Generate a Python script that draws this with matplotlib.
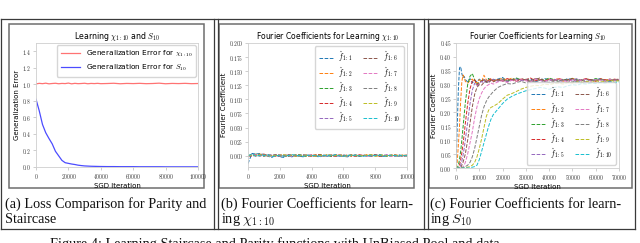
import matplotlib
matplotlib.use('Agg')
import matplotlib.pyplot as plt
from matplotlib.ticker import FuncFormatter, MultipleLocator
from matplotlib.patches import Rectangle

plt.rcParams['mathtext.fontset'] = 'cm'
plt.rcParams['font.family'] = ['DejaVu Sans']

# ---------------- data ----------------
# (a) generalization error
iters_a = [0, 2000, 4000, 6000, 8000, 10000, 12000, 14000, 16000, 18000, 20000,
           22000, 24000, 26000, 28000, 30000, 32000, 34000, 36000, 38000, 40000,
           44000, 48000, 52000, 56000, 60000, 64000, 68000, 72000, 76000, 80000,
           84000, 88000, 92000, 96000, 100000]
err_parity = [1.005, 1.012, 1.008, 1.014, 1.006, 1.010, 1.013, 1.007, 1.011, 1.009, 1.015,
              1.006, 1.012, 1.008, 1.010, 1.013, 1.007, 1.011, 1.009, 1.012, 1.008,
              1.010, 1.013, 1.007, 1.011, 1.009, 1.012, 1.008, 1.010, 1.014, 1.007,
              1.011, 1.009, 1.012, 1.008, 1.010]
err_stair = [0.82, 0.68, 0.515, 0.415, 0.345, 0.28, 0.19, 0.135, 0.08, 0.052, 0.044,
             0.036, 0.030, 0.022, 0.017, 0.013, 0.011, 0.009, 0.008, 0.007, 0.006,
             0.005, 0.005, 0.004, 0.004, 0.004, 0.003, 0.003, 0.003, 0.003, 0.002,
             0.002, 0.002, 0.002, 0.002, 0.002]

# (b) Fourier coefficients, parity (values in units of 1e-3)
iters_b = list(range(0, 10001, 250))
coef_b = [
    [-14, 4, 3, 4, 2, -1, -3, 1, -2, -3, 1, -2, 0, -1, -2, 1, 0, -1, -2, 0, -1, 1, -1, 0, -1, -2, 0, 1, -1, 0, 0, -1, 1, 0, -1, 0, 1, 0, -1, 0, 0],
    [0, 2, 1, 3, 1, 2, 0, 1, 2, -1, 1, 0, 2, 1, -1, 0, 1, 2, 0, -1, 1, 0, 1, 2, 0, 1, -1, 0, 1, 0, 2, 1, 0, -1, 1, 0, 1, 2, 0, 1, 1],
    [0, 1, 3, 2, 0, 1, -1, 2, 0, 1, -1, 0, 1, 2, 0, -1, 1, 0, 2, 1, 0, -1, 0, 1, 1, 0, 2, 0, -1, 1, 0, 1, 0, 2, 1, -1, 0, 1, 0, 1, 0],
    [0, -1, 2, 1, 3, 0, 1, -1, 1, 0, 2, 1, -1, 0, 1, 0, -1, 1, 2, 0, 1, 0, -1, 1, 0, 1, 0, -1, 2, 0, 1, 0, 1, -1, 0, 1, 0, 0, 1, -1, 0],
    [0, 1, -1, 2, 0, 1, 2, 0, -1, 1, 0, -1, 1, 0, 2, 0, 1, -1, 0, 1, 0, 2, 0, -1, 1, 0, 1, 0, 0, 1, -1, 0, 1, 1, 0, 2, 0, -1, 1, 0, 1],
    [0, 2, 0, 1, -1, 1, 0, 2, 1, 0, -1, 1, 0, 1, 0, 2, -1, 0, 1, 0, 1, -1, 2, 0, 1, 0, 1, 0, -1, 1, 0, 1, 2, 0, -1, 0, 1, 0, 1, 0, 0],
    [0, 1, 2, 0, 1, 0, -1, 1, 2, 0, 1, -1, 0, 1, 0, 1, 2, 0, -1, 1, 0, 1, 0, 2, -1, 0, 1, 0, 1, 1, -1, 0, 0, 1, 0, 1, -1, 1, 0, 1, 0],
    [0, 0, 1, -1, 2, 1, 0, 1, -1, 0, 2, 1, 0, -1, 1, 0, 1, 0, 1, -1, 2, 0, 1, 0, -1, 1, 0, 2, 0, 1, 0, -1, 1, 0, 1, 0, 0, 1, -1, 0, 1],
    [0, 1, 0, 2, 1, -1, 1, 0, 1, 2, 0, 1, -1, 0, 1, 1, 0, -1, 1, 0, 2, 1, 0, 1, -1, 0, 1, 0, 1, 0, 1, 2, -1, 0, 1, 0, 1, 0, 0, 1, 0],
    [0, 3, -1, 1, 0, 2, -2, 0, 1, -1, 0, 2, 1, 0, -1, 1, 0, 1, -1, 0, 1, 0, 2, 0, -1, 1, 0, 1, 0, -1, 0, 1, 0, 1, -1, 0, 1, 0, 1, 0, 0],
]

# (c) Fourier coefficients, staircase (values in units of 1e-3)
iters_c = [0, 500, 1000, 1500, 2000, 2500, 3000, 3500, 4000,
           5000, 6000, 7000, 8000, 9000, 10000, 11000, 12000, 13000, 14000, 15000, 16000,
           18000, 20000, 22000, 24000, 26000, 28000, 30000, 32000, 34000, 36000, 38000,
           40000, 42000, 44000, 46000, 48000, 50000, 52000, 54000, 56000, 58000, 60000,
           62000, 64000, 66000, 68000, 70000]
coef_c = [
    [0, 140, 280, 360, 365, 340, 325, 330, 318,
     310, 322, 306, 316, 310, 320, 312, 318, 308, 322, 314, 318,
     320, 326, 312, 318, 322, 316, 318, 321, 310, 316, 322, 318, 312, 320, 315, 322, 318, 310, 316, 320, 314, 318, 322, 315, 312, 318, 316],
    [0, 20, 80, 150, 240, 310, 335, 325, 312,
     305, 315, 320, 310, 306, 318, 310, 334, 318, 312, 320, 314,
     318, 322, 316, 324, 314, 320, 317, 312, 322, 318, 314, 320, 316, 321, 312, 318, 323, 316, 314, 320, 318, 312, 322, 316, 320, 314, 318],
    [0, 0, 10, 30, 60, 100, 145, 190, 235,
     300, 330, 340, 318, 302, 308, 314, 318, 310, 322, 314, 318,
     316, 320, 312, 318, 324, 316, 320, 314, 322, 318, 316, 324, 318, 312, 320, 316, 322, 318, 314, 320, 316, 322, 318, 314, 320, 316, 319],
    [0, 0, 0, 10, 30, 55, 85, 120, 160,
     230, 285, 312, 318, 300, 306, 312, 320, 310, 316, 322, 312,
     318, 314, 322, 316, 312, 320, 318, 324, 314, 318, 312, 320, 316, 322, 318, 312, 320, 314, 318, 322, 316, 312, 320, 318, 314, 320, 317],
    [0, 0, 0, 0, 10, 25, 45, 70, 100,
     165, 230, 280, 305, 296, 304, 312, 306, 318, 310, 314, 320,
     312, 318, 310, 316, 320, 314, 318, 312, 322, 316, 310, 318, 320, 314, 312, 318, 316, 322, 314, 310, 318, 316, 320, 312, 318, 314, 316],
    [0, 0, 0, 0, 0, 10, 20, 35, 50,
     100, 160, 220, 265, 290, 300, 298, 308, 312, 306, 316, 310,
     318, 312, 316, 320, 314, 322, 316, 312, 318, 324, 314, 318, 312, 320, 316, 318, 322, 312, 316, 320, 318, 314, 320, 316, 312, 318, 320],
    [0, 0, 0, 0, 0, 0, 5, 10, 20,
     50, 90, 130, 180, 220, 250, 270, 285, 295, 300, 306, 302,
     310, 314, 308, 316, 312, 318, 314, 310, 320, 316, 312, 318, 314, 320, 316, 310, 318, 314, 316, 320, 312, 318, 316, 314, 320, 316, 318],
    [0, 0, 0, 0, 0, 0, 0, 5, 5,
     10, 20, 40, 70, 110, 150, 190, 220, 240, 255, 265, 275,
     290, 298, 304, 302, 308, 312, 306, 314, 310, 316, 312, 308, 316, 312, 318, 314, 310, 316, 318, 312, 316, 314, 320, 316, 312, 318, 315],
    [0, 0, 0, 0, 0, 0, 0, 0, 0,
     3, 5, 10, 20, 40, 70, 105, 145, 185, 208, 218, 222,
     232, 248, 262, 268, 276, 284, 290, 294, 298, 296, 302, 300, 304, 306, 302, 308, 306, 310, 308, 312, 308, 314, 310, 312, 316, 312, 314],
    [0, 0, 0, 0, 0, 0, 0, 0, 0,
     0, 0, 3, 5, 10, 30, 60, 90, 120, 150, 175, 192,
     212, 232, 248, 258, 266, 272, 278, 282, 286, 290, 288, 283, 290, 292, 290, 296, 300, 298, 304, 302, 306, 304, 308, 306, 310, 308, 310],
]
coef_labels = [r'$\hat{f}_{1:%d}$' % k for k in range(1, 11)]

captions = [
    ("(a) Loss Comparison for Parity and", "Staircase"),
    ("(b) Fourier Coefficients for learn-", r"ing $\chi_{1:10}$"),
    ("(c) Fourier Coefficients for learn-", r"ing $S_{10}$"),
]
fig_caption = "Figure 4: Learning Staircase and Parity functions with UnBiased Pool and data."

# ---------------- layout ----------------
W, H = 640, 243
fig = plt.figure(figsize=(6.4, 2.43), dpi=100)
fig.patch.set_facecolor('white')


def rect(l, t, r, b):
    return [l / W, 1 - b / H, (r - l) / W, (b - t) / H]


bg = fig.add_axes([0, 0, 1, 1], zorder=-5)
bg.set_xlim(0, W)
bg.set_ylim(H, 0)
bg.axis('off')

dark = '#3a3a3a'
lwd = 0.9
# table borders
bg.plot([1, 635], [19, 19], color=dark, lw=lwd)
bg.plot([1, 635], [229, 229], color=dark, lw=lwd)
for xv in [1, 214, 218, 424, 428, 635]:
    bg.plot([xv, xv], [19, 229], color=dark, lw=lwd)
# image frames
for (l, r) in [(9, 204), (219, 414), (429, 632)]:
    bg.add_patch(Rectangle((l, 24), r - l, 164, fill=False, edgecolor='#6e6e6e', lw=1.1))

serif = ['Liberation Serif', 'DejaVu Serif']
for (x0, (l1, l2)) in zip([5, 221, 430], captions):
    bg.text(x0, 204, l1, fontsize=10.3, family=serif, va='center', ha='left', color='#111')
    bg.text(x0, 219, l2, fontsize=10.3, family=serif, va='center', ha='left', color='#111')
bg.text(50, 237.5, fig_caption, fontsize=10.3, family=serif, va='top', ha='left', color='#111')


def style(ax, fmt):
    for s in ax.spines.values():
        s.set_color('#cfcfcf')
        s.set_linewidth(0.6)
    ax.tick_params(length=2, width=0.5, color='#bbbbbb', pad=1.5, labelsize=4, labelcolor='#333333')
    ax.xaxis.set_major_formatter(FuncFormatter(lambda v, p: r'$%d$' % round(v)))
    ax.yaxis.set_major_formatter(FuncFormatter(lambda v, p: '$' + fmt % v + '$'))
    ax.set_xlabel('SGD Iteration', fontsize=5, labelpad=1.5)
    ax.set_ylabel('Fourier Coefficient', fontsize=5, labelpad=1.5)


leg_kw = dict(fontsize=5.6, handlelength=1.9, handletextpad=0.6, borderaxespad=0.4,
              labelspacing=0.1, columnspacing=1.3, borderpad=0.5, framealpha=0.8,
              edgecolor='#cccccc')

# (a)
axa = fig.add_axes(rect(36, 43, 198, 167))
axa.plot(iters_a, err_parity, color='red', alpha=0.55, lw=0.9,
         label=r'Generalization Error for $\chi_{1:10}$')
axa.plot(iters_a, err_stair, color='blue', alpha=0.7, lw=0.9,
         label=r'Generalization Error for $S_{10}$')
axa.set_xlim(0, 100000)
axa.set_ylim(0, 1.5)
axa.xaxis.set_major_locator(MultipleLocator(20000))
axa.yaxis.set_major_locator(MultipleLocator(0.2))
style(axa, '%.1f')
axa.set_ylabel('Generalization Error', fontsize=5, labelpad=1.5)
axa.set_title(r'Learning $\chi_{1:10}$ and $S_{10}$', fontsize=5.7, pad=2.5)
axa.legend(loc='upper right', fontsize=5.3, handlelength=2.6, borderaxespad=0.3,
           labelspacing=0.5, borderpad=0.5, framealpha=0.8, edgecolor='#cccccc')

# (b)
axb = fig.add_axes(rect(248, 43, 407, 167))
for vals, lab in zip(coef_b, coef_labels):
    axb.plot(iters_b, [v / 1000 for v in vals], ls='--', lw=0.7, label=lab)
axb.set_xlim(0, 10000)
axb.set_ylim(-0.02, 0.2)
axb.xaxis.set_major_locator(MultipleLocator(2000))
axb.yaxis.set_major_locator(MultipleLocator(0.025))
style(axb, '%.3f')
axb.set_title(r'Fourier Coefficients for Learning $\chi_{1:10}$', fontsize=5.5, pad=2.5)
axb.legend(loc='upper right', ncol=2, **leg_kw)

# (c)
axc = fig.add_axes(rect(456, 43, 619, 168))
for vals, lab in zip(coef_c, coef_labels):
    axc.plot(iters_c, [v / 1000 for v in vals], ls='--', lw=0.7, label=lab)
axc.set_xlim(0, 70000)
axc.set_ylim(0, 0.45)
axc.xaxis.set_major_locator(MultipleLocator(10000))
axc.yaxis.set_major_locator(MultipleLocator(0.05))
style(axc, '%.2f')
axc.set_title(r'Fourier Coefficients for Learning $S_{10}$', fontsize=5.5, pad=2.5)
axc.legend(loc='lower right', ncol=2, **leg_kw)

fig.savefig('out.png', dpi=100, facecolor='white')
